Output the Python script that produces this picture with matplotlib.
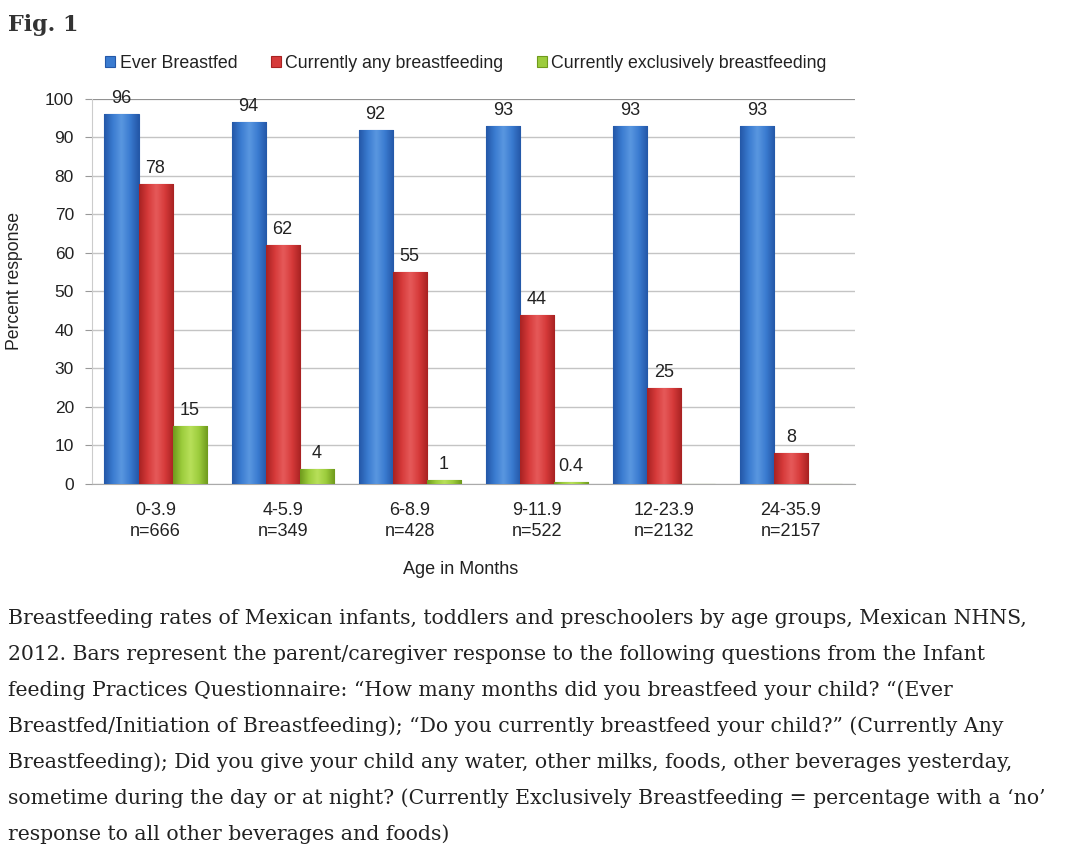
import matplotlib
matplotlib.use("Agg")
import matplotlib.pyplot as plt
import numpy as np
from matplotlib.colors import LinearSegmentedColormap

age_groups = ["0-3.9\nn=666", "4-5.9\nn=349", "6-8.9\nn=428",
              "9-11.9\nn=522", "12-23.9\nn=2132", "24-35.9\nn=2157"]
series_names = ["Ever Breastfed", "Currently any breastfeeding",
                "Currently exclusively breastfeeding"]
ever_bf = [96, 94, 92, 93, 93, 93]
any_bf = [78, 62, 55, 44, 25, 8]
excl_bf = [15, 4, 1, 0.4, None, None]
excl_labels = ["15", "4", "1", "0.4", "", ""]

caption_lines = [
    "Breastfeeding rates of Mexican infants, toddlers and preschoolers by age groups, Mexican NHNS,",
    "2012. Bars represent the parent/caregiver response to the following questions from the Infant",
    "feeding Practices Questionnaire: \u201cHow many months did you breastfeed your child? \u201c(Ever",
    "Breastfed/Initiation of Breastfeeding); \u201cDo you currently breastfeed your child?\u201d (Currently Any",
    "Breastfeeding); Did you give your child any water, other milks, foods, other beverages yesterday,",
    "sometime during the day or at night? (Currently Exclusively Breastfeeding = percentage with a \u2018no\u2019",
    "response to all other beverages and foods)",
]

# (edge, mid, highlight) shades for the glossy bars
shades = [
    ("#2458a8", "#3a7bd0", "#5a97e0"),
    ("#a82222", "#d63a3a", "#e65a5a"),
    ("#6f9a1c", "#9ccc3c", "#b8e05a"),
]

plt.rcParams["font.family"] = ["Liberation Sans", "DejaVu Sans"]

fig = plt.figure(figsize=(10.65, 8.56), dpi=100)
ax = fig.add_axes([0.0864, 0.4346, 0.716, 0.4498])

x = np.arange(len(age_groups))
width = 0.268
all_series = [ever_bf, any_bf, [v if v is not None else 0 for v in excl_bf]]

handles = []
for i, (vals, name) in enumerate(zip(all_series, series_names)):
    edge, mid, hi = shades[i]
    bars = ax.bar(x + (i - 1) * width, vals, width, color=mid, edgecolor=edge,
                  linewidth=0.8, label=name, zorder=3)
    handles.append(bars)
    cmap = LinearSegmentedColormap.from_list("g%d" % i, [edge, mid, hi, mid, edge])
    grad = np.linspace(0, 1, 64).reshape(1, -1)
    for b in bars:
        if b.get_height() <= 0:
            continue
        x0, w, h = b.get_x(), b.get_width(), b.get_height()
        im = ax.imshow(grad, cmap=cmap, extent=[x0, x0 + w, 0, h],
                       aspect="auto", zorder=3.5, interpolation="bicubic")
        im.set_clip_path(b)

# value labels
for i, vals in enumerate([ever_bf, any_bf]):
    for xi, v in zip(x, vals):
        ax.annotate(str(v), (xi + (i - 1) * width, v), xytext=(0, 5),
                    textcoords="offset points", ha="center", va="bottom",
                    fontsize=13, color="#222222", zorder=5)
for xi, v, lab in zip(x, excl_bf, excl_labels):
    if v is None:
        continue
    ax.annotate(lab, (xi + width, v), xytext=(0, 5), textcoords="offset points",
                ha="center", va="bottom", fontsize=13, color="#222222", zorder=5)

ax.set_xlim(-0.5, len(age_groups) - 0.5)
ax.set_ylim(0, 100)
ax.set_yticks(range(0, 101, 10))
ax.set_xticks(x)
ax.set_xticklabels(age_groups, fontsize=13, color="#222222", linespacing=1.3)
ax.tick_params(axis="x", length=0, pad=13)
ax.tick_params(axis="y", length=5, color="#999999", labelsize=12.5,
               labelcolor="#222222", pad=8)
ax.grid(axis="y", color="#c4c4c4", linewidth=1.0, zorder=0)
ax.set_axisbelow(True)
for s in ["top", "right"]:
    ax.spines[s].set_visible(False)
ax.spines["left"].set_color("#cccccc")
ax.spines["bottom"].set_color("#aaaaaa")
ax.axhline(100, color="#888888", linewidth=1.2, zorder=1)

ax.set_xlabel("Age in Months", fontsize=13, color="#222222")
ax.xaxis.set_label_coords(0.483, -0.2)
ax.set_ylabel("Percent response", fontsize=12.7, color="#222222")
ax.yaxis.set_label_coords(-0.09, 0.527)

fig.legend(handles=handles, labels=series_names, loc="center",
           bbox_to_anchor=(466 / 1065, 1 - 63 / 856), ncol=3, frameon=False,
           fontsize=12.8, handlelength=0.55, handleheight=0.55, handletextpad=0.25,
           columnspacing=1.9, labelcolor="#222222")

fig.text(8 / 1065, 1 - 25 / 856, "Fig. 1", family="DejaVu Serif",
         fontweight="bold", fontsize=16, color="#333333", va="center")

for k, line in enumerate(caption_lines):
    fig.text(8 / 1065, 1 - (618 + 36 * k) / 856, line, family="DejaVu Serif",
             fontsize=14.65, color="#222222", va="center")

fig.savefig("out.png", dpi=100)
